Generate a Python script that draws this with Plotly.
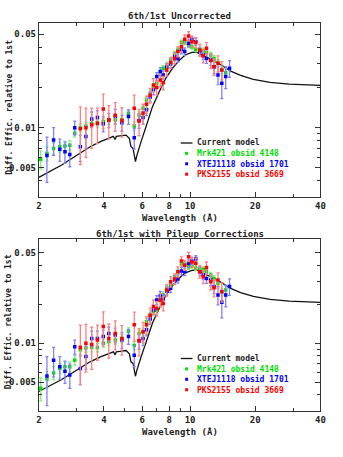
import plotly.graph_objects as go

# ---------------- data ----------------
# model curve
model_wl = [2.0, 2.25, 2.55, 2.85, 3.1, 3.45, 3.85, 4.28, 4.42, 4.5,
            4.56, 4.73, 5.06, 5.24, 5.33, 5.45, 5.52, 5.59, 5.66, 5.74,
            5.94, 6.26, 6.7, 7.2, 7.72, 8.28, 8.87, 9.5, 10.19, 10.7,
            11.3, 12.5, 13.9, 15.4, 17.1, 19.6, 23.4, 28.7, 40]
model_val = [0.00425, 0.00470, 0.00526, 0.00590, 0.00643, 0.00720, 0.00786, 0.00847, 0.00860, 0.00815,
             0.00860, 0.00867, 0.00880, 0.00830, 0.00720, 0.00700, 0.00640, 0.00557, 0.00610, 0.00660,
             0.00790, 0.01020, 0.01436, 0.01860, 0.02340, 0.02780, 0.03170, 0.03500, 0.03660, 0.03680,
             0.03540, 0.03250, 0.02950, 0.02650, 0.02460, 0.02300, 0.02180, 0.02120, 0.02070]

# Mrk421 obsid 4148
mrk_wl = [2.04, 2.18, 2.34, 2.50, 2.64, 2.78, 2.93, 3.11, 3.30, 3.51,
          3.73, 3.97, 4.21, 4.51, 4.84, 5.19, 5.52, 5.81, 6.06, 6.29,
          6.54, 6.77, 7.01, 7.28, 7.51, 7.80, 8.13, 8.48, 8.78, 9.12,
          9.44, 9.84, 10.19, 10.62, 11.08, 11.50, 11.90, 12.45, 12.90, 13.45,
          14.01, 14.60]
mrk_unc = [0.0058, 0.0064, 0.0070, 0.0072, 0.0073, 0.0074, 0.0091, 0.0100, 0.0103, 0.0107,
           0.0108, 0.0111, 0.0113, 0.0114, 0.0115, 0.0128, 0.0103, 0.0124, 0.0140, 0.0161,
           0.0181, 0.0200, 0.0215, 0.0252, 0.0278, 0.0295, 0.0321, 0.0356, 0.0381, 0.0433,
           0.0439, 0.0416, 0.0404, 0.0385, 0.0385, 0.0377, 0.0365, 0.0350, 0.0330, 0.0307,
           0.0270, 0.0258]
mrk_cor = [0.0045, 0.0053, 0.0059, 0.0064, 0.0066, 0.0066, 0.0074, 0.0089, 0.0092, 0.0093,
           0.0093, 0.0100, 0.0103, 0.0106, 0.0109, 0.0124, 0.0096, 0.0119, 0.0123, 0.0147,
           0.0163, 0.0176, 0.0180, 0.0216, 0.0236, 0.0266, 0.0282, 0.0327, 0.0357, 0.0407,
           0.0407, 0.0390, 0.0397, 0.0379, 0.0379, 0.0372, 0.0357, 0.0337, 0.0317, 0.0290,
           0.0250, 0.0258]
mrk_err = [0.0009, 0.0008, 0.0007, 0.0006, 0.0006, 0.0006, 0.0006, 0.0007, 0.0007, 0.0007,
           0.0007, 0.0007, 0.0007, 0.0008, 0.0008, 0.0008, 0.0007, 0.0008, 0.0008, 0.0009,
           0.0010, 0.0010, 0.0011, 0.0012, 0.0013, 0.0014, 0.0015, 0.0016, 0.0017, 0.0018,
           0.0018, 0.0018, 0.0017, 0.0016, 0.0016, 0.0016, 0.0016, 0.0016, 0.0016, 0.0016,
           0.0017, 0.0018]

# XTEJ1118 obsid 1701
xte_wl = [2.18, 2.34, 2.50, 2.64, 2.78, 2.93, 3.11, 3.30, 3.51, 3.73,
          3.97, 4.21, 4.51, 4.84, 5.19, 5.52, 5.81, 6.06, 6.29, 6.54,
          6.77, 7.01, 7.28, 7.51, 7.80, 8.13, 8.48, 8.78, 9.12, 9.44,
          9.84, 10.19, 10.62, 11.08, 11.50, 11.90, 12.45, 12.90, 13.45, 14.01,
          14.60, 15.21]
xte_unc = [0.0062, 0.0081, 0.0069, 0.0066, 0.0063, 0.0100, 0.0072, 0.0086, 0.0116, 0.0119,
           0.0107, 0.0114, 0.0122, 0.0109, 0.0121, 0.0084, 0.0113, 0.0119, 0.0136, 0.0170,
           0.0191, 0.0241, 0.0263, 0.0248, 0.0283, 0.0300, 0.0340, 0.0330, 0.0381, 0.0371,
           0.0428, 0.0458, 0.0440, 0.0371, 0.0350, 0.0330, 0.0321, 0.0286, 0.0248, 0.0215,
           0.0241, 0.0278]
xte_cor = [0.0056, 0.0074, 0.0066, 0.0061, 0.0057, 0.0094, 0.0064, 0.0079, 0.0109, 0.0109,
           0.0113, 0.0119, 0.0116, 0.0106, 0.0113, 0.0081, 0.0104, 0.0109, 0.0127, 0.0154,
           0.0181, 0.0216, 0.0233, 0.0220, 0.0253, 0.0266, 0.0308, 0.0314, 0.0362, 0.0357,
           0.0414, 0.0431, 0.0447, 0.0357, 0.0337, 0.0317, 0.0308, 0.0274, 0.0236, 0.0207,
           0.0236, 0.0274]
xte_err = [0.0023, 0.0019, 0.0013, 0.0012, 0.0012, 0.0012, 0.0016, 0.0016, 0.0015, 0.0015,
           0.0014, 0.0014, 0.0015, 0.0015, 0.0015, 0.0015, 0.0014, 0.0013, 0.0013, 0.0014,
           0.0015, 0.0017, 0.0018, 0.0018, 0.0019, 0.0020, 0.0022, 0.0022, 0.0024, 0.0024,
           0.0026, 0.0027, 0.0027, 0.0026, 0.0026, 0.0027, 0.0030, 0.0032, 0.0038, 0.0050,
           0.0045, 0.0040]

# PKS2155 obsid 3669
pks_wl = [3.11, 3.30, 3.51, 3.73, 3.97, 4.21, 4.51, 4.84, 5.52, 5.81,
          6.06, 6.29, 6.54, 6.77, 7.01, 7.28, 7.51, 7.80, 8.13, 8.48,
          8.78, 9.12, 9.44, 9.84, 10.19, 10.62, 11.08, 11.50, 11.90, 12.45,
          12.90, 13.45, 14.01]
pks_unc = [0.0098, 0.0100, 0.0105, 0.0108, 0.0138, 0.0114, 0.0124, 0.0113, 0.0140, 0.0112,
           0.0128, 0.0150, 0.0175, 0.0209, 0.0200, 0.0227, 0.0217, 0.0270, 0.0307, 0.0330,
           0.0371, 0.0404, 0.0458, 0.0486, 0.0440, 0.0433, 0.0381, 0.0344, 0.0393, 0.0318,
           0.0286, 0.0303, 0.0270]
pks_cor = [0.0093, 0.0100, 0.0098, 0.0106, 0.0135, 0.0109, 0.0119, 0.0109, 0.0139, 0.0105,
           0.0123, 0.0139, 0.0165, 0.0192, 0.0186, 0.0216, 0.0203, 0.0258, 0.0299, 0.0314,
           0.0357, 0.0431, 0.0401, 0.0466, 0.0425, 0.0414, 0.0357, 0.0327, 0.0384, 0.0299,
           0.0268, 0.0308, 0.0250]
pks_err = [0.0045, 0.0040, 0.0035, 0.0032, 0.0040, 0.0032, 0.0030, 0.0028, 0.0035, 0.0025,
           0.0022, 0.0022, 0.0022, 0.0024, 0.0024, 0.0025, 0.0025, 0.0027, 0.0028, 0.0030,
           0.0032, 0.0034, 0.0036, 0.0038, 0.0038, 0.0038, 0.0038, 0.0038, 0.0040, 0.0040,
           0.0040, 0.0042, 0.0042]

x_tick_vals = [2, 4, 6, 8, 10, 20, 40]
x_tick_text = ["2", "4", "6", "8", "10", "20", "40"]
x_minor_vals = [3, 5, 7, 9, 30]
y_tick_vals = [0.005, 0.01, 0.05]
y_tick_text = ["0.005", "0.01", "0.05"]
y_minor_vals = [0.004, 0.006, 0.007, 0.008, 0.009, 0.02, 0.03, 0.04]

panel_titles = ["6th/1st Uncorrected", "6th/1st with Pileup Corrections"]
legend_names = ["Current model", "Mrk421 obsid 4148", "XTEJ1118 obsid 1701", "PKS2155 obsid 3669"]

# ---------------- styling ----------------
FONT = "DejaVu Sans Mono"
W, H = 343, 457
GREEN, BLUE, RED = "#00e000", "#0000ff", "#ff0000"
GREEN_E, BLUE_E, RED_E = "#80f080", "#8080ff", "#ff8080"
TXT = "#222222"

fig = go.Figure()

panels = [
    dict(xa="x", ya="y", mrk=mrk_unc, xte=xte_unc, pks=pks_unc),
    dict(xa="x2", ya="y2", mrk=mrk_cor, xte=xte_cor, pks=pks_cor),
]

for p in panels:
    fig.add_trace(go.Scatter(x=model_wl, y=model_val, mode="lines",
                             line=dict(color="#111111", width=1.3),
                             xaxis=p["xa"], yaxis=p["ya"], showlegend=False))
    for wl, val, err, c, ce in [(mrk_wl, p["mrk"], mrk_err, GREEN, GREEN_E),
                                (xte_wl, p["xte"], xte_err, BLUE, BLUE_E),
                                (pks_wl, p["pks"], pks_err, RED, RED_E)]:
        fig.add_trace(go.Scatter(x=wl, y=val, mode="markers",
                                 marker=dict(symbol="square", size=3.5, color=c),
                                 error_y=dict(type="data", array=err, visible=True,
                                              color=ce, thickness=1.3, width=1.5),
                                 xaxis=p["xa"], yaxis=p["ya"], showlegend=False))

xdom = [36.7 / W, 325 / W]
ydoms = [[1 - 196.7 / H, 1 - 23.3 / H], [1 - 410.7 / H, 1 - 239 / H]]
yranges = [[-2.5165, -1.219], [-2.52, -1.195]]
tick_font = dict(family=FONT, size=9, color=TXT, weight="bold")

def xaxis_cfg(anchor):
    return dict(type="log", range=[0.30103, 1.60206], domain=xdom, anchor=anchor,
                showline=True, linecolor="#333333", linewidth=1, mirror="ticks",
                ticks="inside", ticklen=5, tickcolor="#333333", tickwidth=1,
                tickmode="array", tickvals=x_tick_vals, ticktext=x_tick_text,
                tickfont=tick_font,
                minor=dict(ticks="inside", ticklen=3, tickcolor="#333333",
                           tickmode="array", tickvals=x_minor_vals),
                showgrid=False, zeroline=False)

def yaxis_cfg(anchor, dom, rng):
    return dict(type="log", range=rng, domain=dom, anchor=anchor,
                showline=True, linecolor="#333333", linewidth=1, mirror="ticks",
                ticks="inside", ticklen=5, tickcolor="#333333", tickwidth=1,
                tickmode="array", tickvals=y_tick_vals, ticktext=y_tick_text,
                tickfont=tick_font,
                minor=dict(ticks="inside", ticklen=3, tickcolor="#333333",
                           tickmode="array", tickvals=y_minor_vals),
                showgrid=False, zeroline=False)

fig.update_layout(
    width=W, height=H, margin=dict(l=0, r=0, t=0, b=0),
    paper_bgcolor="white", plot_bgcolor="white", showlegend=False,
    xaxis=xaxis_cfg("y"), yaxis=yaxis_cfg("x", ydoms[0], yranges[0]),
    xaxis2=xaxis_cfg("y2"), yaxis2=yaxis_cfg("x2", ydoms[1], yranges[1]),
)

ann_font = dict(family=FONT, size=9, color=TXT, weight="bold")
xc = (36.7 + 325) / 2 / W
title_y = [1 - 16 / H, 1 - 234 / H]
xlab_y = [1 - 218 / H, 1 - 432 / H]
ylab_y = [1 - 107.5 / H, 1 - 322 / H]
leg_rows = [[143.0, 153.4, 163.8, 174.2], [358.5, 368.9, 379.3, 389.7]]
leg_colors = [TXT, GREEN, BLUE, RED]

for i in range(2):
    fig.add_annotation(text=panel_titles[i], xref="paper", yref="paper", x=xc, y=title_y[i],
                       showarrow=False, font=ann_font, xanchor="center", yanchor="middle",
                       borderpad=0)
    fig.add_annotation(text="Wavelength (Å)", xref="paper", yref="paper", x=xc, y=xlab_y[i],
                       showarrow=False, font=ann_font, xanchor="center", yanchor="middle",
                       borderpad=0)
    fig.add_annotation(text="Diff. Effic. relative to 1st", xref="paper", yref="paper",
                       x=5.5 / W, y=ylab_y[i], textangle=-90, showarrow=False,
                       font=dict(family=FONT, size=8, color=TXT, weight="bold"),
                       xanchor="center", yanchor="middle", borderpad=0)
    for j, name in enumerate(legend_names):
        ypx = leg_rows[i][j]
        yp = 1 - ypx / H
        fig.add_annotation(text=name, xref="paper", yref="paper", x=198 / W, y=yp,
                           showarrow=False,
                           font=dict(family=FONT, size=8, color=leg_colors[j], weight="bold"),
                           xanchor="left", yanchor="middle", borderpad=0)
        if j == 0:
            fig.add_shape(type="line", xref="paper", yref="paper",
                          x0=182 / W, x1=194 / W, y0=yp, y1=yp,
                          line=dict(color="#111111", width=1.3))
        else:
            fig.add_shape(type="rect", xref="paper", yref="paper",
                          x0=186.5 / W, x1=189.5 / W, y0=yp - 1.5 / H, y1=yp + 1.5 / H,
                          line=dict(width=0), fillcolor=leg_colors[j])

fig.write_html("out.html")
